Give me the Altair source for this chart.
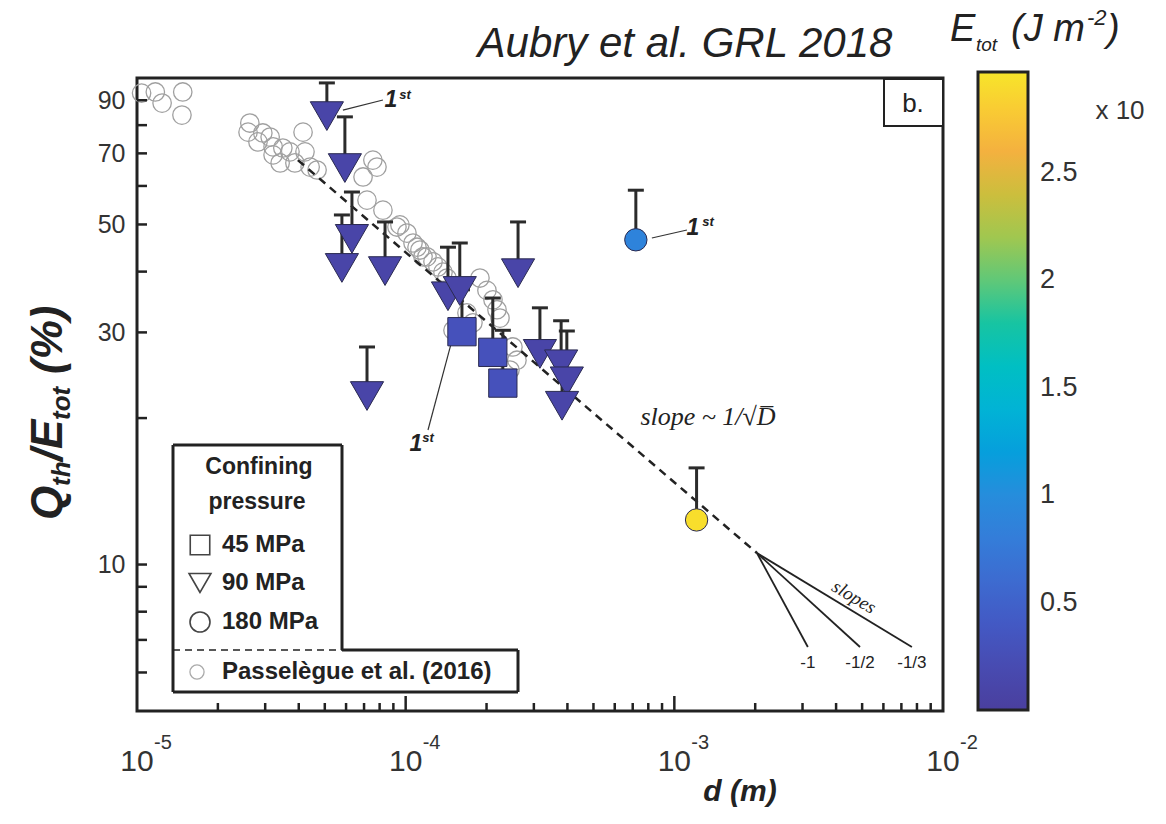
import altair as alt
import pandas as pd

# ---------------- data ----------------
# Passelègue et al. (2016): grain size d (m) and Qth/Etot (%)
pas_d = [1.04e-5, 1.17e-5, 1.24e-5, 1.48e-5, 1.47e-5, 2.63e-5, 2.59e-5, 2.94e-5, 3.13e-5, 3.21e-5,
         3.21e-5, 3.49e-5, 3.71e-5, 4.15e-5, 4.22e-5, 4.41e-5, 4.68e-5, 7.55e-5, 7.82e-5, 6.94e-5,
         7.18e-5, 8.23e-5, 9.28e-5, 1.011e-4, 1.102e-4, 1.160e-4, 9.52e-5, 1.065e-4, 1.130e-4, 1.200e-4,
         1.264e-4, 1.319e-4, 1.377e-4, 1.425e-4, 1.890e-4, 2.007e-4, 2.113e-4, 2.187e-4, 2.244e-4, 1.500e-4,
         1.691e-4, 1.780e-4, 2.508e-4, 2.596e-4, 2.445e-4, 2.82e-5, 3.41e-5, 3.87e-5]
pas_q = [93.1, 93.6, 88.8, 93.6, 83.9, 80.8, 77.4, 77.1, 75.6, 72.2,
         69.5, 71.8, 70.5, 77.4, 70.5, 65.6, 64.7, 67.8, 65.6, 62.6,
         56.1, 53.5, 49.4, 48.0, 44.9, 42.9, 49.9, 45.8, 44.3, 42.9,
         41.9, 40.9, 39.9, 38.8, 38.8, 36.6, 35.0, 33.4, 32.1, 30.3,
         32.9, 31.4, 28.0, 26.3, 25.1, 73.9, 66.9, 66.9]

# Experiments: d (m), Qth/Etot (%), upper error bound, confining pressure, Etot (x10 J m-2)
exp_d = [5.09e-5, 5.94e-5, 6.31e-5, 5.79e-5, 8.38e-5, 7.18e-5, 1.437e-4, 1.59e-4, 2.62e-4,
         3.16e-4, 3.79e-4, 3.98e-4, 3.82e-4,
         1.62e-4, 2.11e-4, 2.30e-4,
         7.19e-4, 1.21e-3]
exp_q = [83.5, 65.3, 46.7, 40.7, 40.1, 22.2, 35.6, 36.5, 39.7,
         27.1, 25.8, 23.8, 21.2,
         30.1, 27.3, 23.6,
         46.5, 12.35]
exp_q_hi = [97.7, 83.2, 58.3, 52.3, 50.6, 28.0, 44.9, 45.8, 50.6,
            33.7, 31.7, 30.2, 26.3,
            36.7, 35.3, 30.3,
            58.8, 15.8]
exp_conf = ["90 MPa"] * 13 + ["45 MPa"] * 3 + ["180 MPa"] * 2
exp_etot = [0.1, 0.1, 0.1, 0.1, 0.1, 0.1, 0.1, 0.1, 0.1,
            0.1, 0.1, 0.1, 0.1,
            0.3, 0.3, 0.3,
            0.87, 2.92]

# dashed trend, slope ~ 1/sqrt(D)
fit_d = [3.97e-5, 2.03e-3]
fit_q = [67.8, 10.56]

# reference slopes fan
fan_d0, fan_q0 = 2.03e-3, 10.56
fan_end_d = [3.14e-3, 4.91e-3, 7.66e-3]
fan_end_q = 6.77
fan_labels = ["-1", "-1/2", "-1/3"]

# leader lines to the "1st" tags
lead_d = [[5.84e-5, 8.23e-5], [1.487e-4, 1.211e-4], [8.25e-4, 1.114e-3]]
lead_q = [[85.9, 90.1], [28.9, 18.9], [46.9, 48.7]]

# axes
x_major = [1e-4, 1e-3]
x_minor = [2e-5, 3e-5, 4e-5, 5e-5, 6e-5, 7e-5, 8e-5, 9e-5,
           2e-4, 3e-4, 4e-4, 5e-4, 6e-4, 7e-4, 8e-4, 9e-4,
           2e-3, 3e-3, 4e-3, 5e-3, 6e-3, 7e-3, 8e-3, 9e-3]
x_labels = [1e-5, 1e-4, 1e-3, 1e-2]
x_exps = ["-5", "-4", "-3", "-2"]
y_ticks = [6, 7, 8, 9, 10, 20, 30, 40, 50, 60, 70, 80, 90]
y_labels = [10, 30, 50, 70, 90]
cbar_ticks = [0.5, 1, 1.5, 2, 2.5]
cbar_domain = [0, 2.97]

PARULA = ["#4a3f9e", "#4456c2", "#3a78d8", "#2596dc", "#22bbd0",
          "#2cc597", "#a9c64c", "#f4b13f", "#f7e52a"]

# ---------------- frames ----------------
pas = pd.DataFrame({"d": pas_d, "q": pas_q})
exp = pd.DataFrame({"d": exp_d, "q": exp_q, "q_hi": exp_q_hi, "conf": exp_conf, "etot": exp_etot})
fit = pd.DataFrame({"d": fit_d, "q": fit_q})
fan_rows = []
for lab, de in zip(fan_labels, fan_end_d):
    fan_rows += [{"d": fan_d0, "q": fan_q0, "s": lab}, {"d": de, "q": fan_end_q, "s": lab}]
fan = pd.DataFrame(fan_rows)
fan_lab = pd.DataFrame({"d": fan_end_d, "s": fan_labels})
lead_rows = []
for i, (ds, qs) in enumerate(zip(lead_d, lead_q)):
    for dd, qq in zip(ds, qs):
        lead_rows.append({"d": dd, "q": qq, "g": i})
lead = pd.DataFrame(lead_rows)
xmaj = pd.DataFrame({"d": x_major})
xmin = pd.DataFrame({"d": x_minor})
xlab = pd.DataFrame({"d": x_labels, "e": x_exps})
ytk = pd.DataFrame({"q": y_ticks})
ONE = pd.DataFrame({"k": [0]})

SANS = "Liberation Sans"
SERIF = "Liberation Serif"
INK = "#222222"
W, H = 806, 633

xs = alt.Scale(type="log", domain=[1e-5, 1e-2], nice=False)
ys = alt.Scale(type="log", domain=[5, 100], nice=False)
yaxis = alt.Axis(values=y_labels, ticks=False, domain=False, grid=False, labelFontSize=25,
                 labelPadding=12, labelColor="#333333", labelFont=SANS, title=None)


def X(f="d"):
    return alt.X(f"{f}:Q", scale=xs, axis=None)


def Y(f="q"):
    return alt.Y(f"{f}:Q", scale=ys, axis=yaxis)


def ptext(text, x, y, size, weight="normal", style="normal", align="center", font=SANS,
          angle=0, color=INK, baseline="middle"):
    return alt.Chart(ONE).mark_text(
        text=text, fontSize=size, fontWeight=weight, fontStyle=style, align=align,
        baseline=baseline, font=font, angle=angle, color=color
    ).encode(x=alt.value(x), y=alt.value(y))


def prule(x1, y1, x2, y2, width=3, dash=None, color=INK):
    kw = dict(color=color, strokeWidth=width)
    if dash:
        kw["strokeDash"] = dash
    return alt.Chart(ONE).mark_rule(**kw).encode(
        x=alt.value(x1), y=alt.value(y1), x2=alt.value(x2), y2=alt.value(y2))


def prect(x1, y1, x2, y2, stroke=None, width=0):
    kw = dict(color="white", opacity=1)
    if stroke:
        kw.update(stroke=stroke, strokeWidth=width)
    return alt.Chart(ONE).mark_rect(**kw).encode(
        x=alt.value(x1), y=alt.value(y1), x2=alt.value(x2), y2=alt.value(y2))


def psym(shape, x, y, size, color="#444444", width=1.6):
    return alt.Chart(ONE).mark_point(shape=shape, filled=False, size=size, color=color,
                                     strokeWidth=width, opacity=1).encode(
        x=alt.value(x), y=alt.value(y))


layers = []

# Passelègue et al. open circles
layers.append(alt.Chart(pas).mark_point(shape="circle", filled=False, size=340, color="#a0a0a0",
                                        strokeWidth=1.3, opacity=1).encode(x=X(), y=Y()))
# trend line and slope fan
layers.append(alt.Chart(fit).mark_line(color=INK, strokeWidth=2.5, strokeDash=[8, 6]).encode(x=X(), y=Y()))
layers.append(alt.Chart(fan).mark_line(color=INK, strokeWidth=1.8).encode(x=X(), y=Y(), detail="s:N"))
layers.append(alt.Chart(fan_lab).mark_text(font=SANS, fontSize=17, color=INK).encode(
    x=X(), y=alt.value(585), text="s:N"))
# leader lines
layers.append(alt.Chart(lead).mark_line(color="#333333", strokeWidth=1.2).encode(x=X(), y=Y(), detail="g:N"))
# error bars with caps
layers.append(alt.Chart(exp).mark_rule(color="#2b2b2b", strokeWidth=3).encode(x=X(), y=Y(), y2="q_hi:Q"))
layers.append(alt.Chart(exp).mark_tick(orient="horizontal", size=16, thickness=3, color="#2b2b2b",
                                       opacity=1).encode(x=X(), y=Y("q_hi")))
# experiment markers coloured by Etot, with the colour bar
layers.append(alt.Chart(exp).mark_point(filled=True, opacity=1, stroke="#2a2a50", strokeWidth=1).encode(
    x=X(), y=Y(),
    shape=alt.Shape("conf:N", scale=alt.Scale(domain=["90 MPa", "45 MPa", "180 MPa"],
                                              range=["triangle-down", "square", "circle"]), legend=None),
    size=alt.Size("conf:N", scale=alt.Scale(domain=["90 MPa", "45 MPa", "180 MPa"],
                                            range=[1100, 500, 1000]), legend=None),
    color=alt.Color("etot:Q", scale=alt.Scale(domain=cbar_domain, range=PARULA),
                    legend=alt.Legend(orient="none", legendX=841, legendY=-6, direction="vertical",
                                      gradientLength=638, gradientThickness=50, title=None,
                                      values=cbar_ticks, format="~g", labelFontSize=27,
                                      labelOffset=12, labelColor="#333333", labelFont=SANS,
                                      gradientStrokeColor=INK, gradientStrokeWidth=3,
                                      labelOverlap=False)),
))

# inward axis ticks
layers.append(alt.Chart(xmin).mark_rule(color=INK, strokeWidth=2.5).encode(
    x=X(), y=alt.value(H), y2=alt.value(H - 8)))
layers.append(alt.Chart(xmaj).mark_rule(color=INK, strokeWidth=2.5).encode(
    x=X(), y=alt.value(H), y2=alt.value(H - 15)))
layers.append(alt.Chart(ytk).mark_rule(color=INK, strokeWidth=2.5).encode(
    y=Y(), x=alt.value(0), x2=alt.value(10)))

# x tick labels as powers of ten
layers.append(alt.Chart(xlab).mark_text(text="10", font=SANS, fontSize=30, align="center",
                                        color="#333333").encode(x=X(), y=alt.value(684)))
layers.append(alt.Chart(xlab).mark_text(font=SANS, fontSize=20, align="left", color="#333333",
                                        dx=17).encode(x=X(), y=alt.value(665), text="e:N"))

# axis titles
layers.append(ptext("d (m)", 603, 714, 30, weight="bold", style="italic"))
# y title built from pieces so the subscripts sit below the baseline
for txt, xb, yb, fs in [("Q", -75, 442, 44), ("th", -67, 408, 26), ("/", -75, 383, 44),
                        ("E", -75, 371, 44), ("tot", -67, 342, 26), ("(%)", -75, 296, 44)]:
    layers.append(ptext(txt, xb, yb, fs, weight="bold", style="italic", angle=270,
                        align="left", baseline="alphabetic"))

# annotations
layers.append(ptext("slope ~ 1/√D̅", 571, 339, 26, style="italic", font=SERIF))
layers.append(ptext("slopes", 717, 519, 19, style="italic", font=SERIF, angle=31))
for (x1, y1), (x2, y2) in [((254, 22), (268, 17)), ((279, 366), (291, 360)), ((556, 150), (571, 144))]:
    layers.append(ptext("1", x1, y1, 23, weight="bold", style="italic"))
    layers.append(ptext("st", x2, y2, 13, weight="bold", style="italic"))

# panel tag
layers.append(prect(747, 1, 806, 48, stroke=INK, width=2))
layers.append(ptext("b.", 776, 26, 26))

# legend box
layers.append(prect(36, 367, 205, 614))
layers.append(prect(36, 572, 381, 614))
layers.append(prule(36, 367, 205, 367))
layers.append(prule(36, 367, 36, 614))
layers.append(prule(205, 367, 205, 572))
layers.append(prule(205, 572, 381, 572))
layers.append(prule(381, 572, 381, 614))
layers.append(prule(36, 614, 381, 614))
layers.append(prule(36, 572, 205, 572, width=1.5, dash=[7, 5]))
layers.append(ptext("Confining", 122, 389, 23, weight="bold"))
layers.append(ptext("pressure", 120, 424, 23, weight="bold"))
layers.append(psym("square", 63, 467, 380))
layers.append(psym("triangle-down", 63, 505, 480))
layers.append(psym("circle", 63, 544, 400))
layers.append(psym("circle", 60, 594, 200, color="#aaaaaa", width=1.3))
layers.append(ptext("45 MPa", 85, 467, 24, weight="bold", align="left"))
layers.append(ptext("90 MPa", 85, 505, 24, weight="bold", align="left"))
layers.append(ptext("180 MPa", 85, 544, 24, weight="bold", align="left"))
layers.append(ptext("Passelègue et al. (2016)", 85, 594, 24, weight="bold", align="left"))

# header text
layers.append(ptext("Aubry et al. GRL 2018", 548, -34, 42, style="italic"))
# colour bar caption: E_tot (J m^-2)
for txt, xb, yb, fs in [("E", 813, -37, 38), ("tot", 839, -27, 19), ("(J m", 874, -37, 38),
                        ("-2", 950, -53, 22), (")", 970, -37, 38)]:
    layers.append(ptext(txt, xb, yb, fs, style="italic", align="left", baseline="alphabetic"))
layers.append(ptext("x 10", 983, 33, 26, color="#333333"))

chart = alt.layer(*layers).properties(
    width=W, height=H,
    padding={"left": 137, "top": 78, "right": 223, "bottom": 113},
    autosize=alt.AutoSizeParams(type="none"),
).configure(font=SANS).configure_view(stroke=INK, strokeWidth=3)

chart.save("out.html", embed_options={"renderer": "svg", "actions": False})
